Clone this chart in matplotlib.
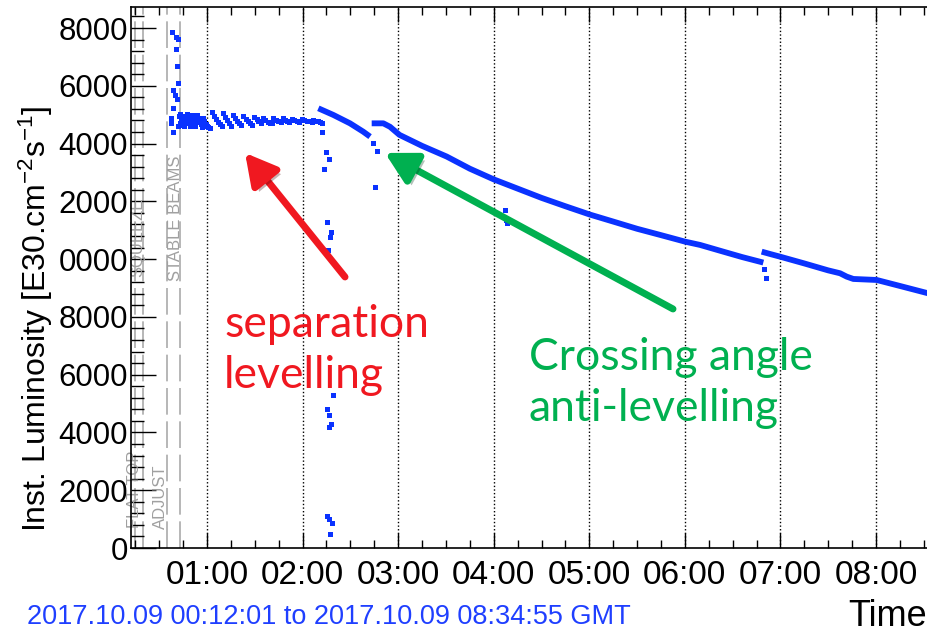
"""
Instantaneous luminosity during an LHC fill (2017.10.09), ROOT-style timber plot,
with separation-levelling and crossing-angle anti-levelling call-outs.
"""
import matplotlib
matplotlib.use("Agg")
import matplotlib.pyplot as plt
import matplotlib.patheffects as pe

plt.rcParams["font.family"] = "Liberation Sans"
plt.rcParams["mathtext.default"] = "regular"

BLUE = "#0a32ff"
RED = "#f01820"
GREEN = "#00b050"

# time in hours after 00:00 GMT, luminosity in 1e30 cm^-2 s^-1
ramp_t = [0.631, 0.676, 0.693, 0.676, 0.689, 0.693, 0.647, 0.668, 0.689, 0.641, 0.620, 0.623, 0.641]
ramp_v = [17850, 17700, 17610, 17265, 16690, 16090, 15860, 15680, 15530, 15220, 14880, 14700, 14390]

plateau_t = [0.700, 0.707, 0.713, 0.720, 0.727, 0.735, 0.744, 0.752, 0.760, 0.768, 0.777, 0.787,
             0.797, 0.807, 0.817, 0.827, 0.838, 0.848, 0.860, 0.872, 0.884, 0.896, 0.909, 0.921,
             0.933, 0.945, 0.957, 0.970, 0.985, 1.000, 1.015, 1.030,
             1.049, 1.071, 1.091, 1.112, 1.132, 1.153,
             1.171, 1.193, 1.213, 1.233, 1.254,
             1.275, 1.294, 1.315, 1.335, 1.360,
             1.380, 1.406, 1.426, 1.447, 1.472,
             1.492, 1.518, 1.538, 1.563,
             1.589, 1.609, 1.634, 1.660, 1.675,
             1.694, 1.721, 1.746, 1.771,
             1.792, 1.812, 1.837, 1.863,
             1.886, 1.914, 1.939, 1.964,
             1.991, 2.015, 2.045, 2.076, 2.096,
             2.112, 2.137, 2.157, 2.178, 2.198]
plateau_v = [14600, 14950, 14700, 15010, 14800, 14650, 14950, 14780, 14600, 14900, 14700, 15030,
             14900, 14760, 14620, 14880, 14980, 14820, 14700, 14600, 14900, 15000, 14880, 14760,
             14660, 14580, 14900, 14780, 14680, 14600, 14560, 14540,
             15080, 14960, 14850, 14750, 14660, 14600,
             15050, 14920, 14800, 14700, 14620,
             14990, 14880, 14780, 14700, 14630,
             14960, 14850, 14770, 14700, 14640,
             14930, 14840, 14770, 14700,
             14900, 14830, 14760, 14720, 14700,
             14880, 14820, 14770, 14740,
             14870, 14830, 14790, 14760,
             14850, 14810, 14780, 14760,
             14840, 14810, 14790, 14770, 14760,
             14810, 14790, 14770, 14740, 14700]

dip1_t = [2.203, 2.245, 2.273, 2.224, 2.256, 2.297, 2.284, 2.266,
          2.315, 2.252, 2.273, 2.294, 2.280, 2.252, 2.280, 2.308, 2.290]
dip1_v = [14390, 13710, 13470, 13120, 11290, 10940, 10780, 10320,
          5300, 4810, 4600, 4290, 4200, 1120, 990, 855, 485]

seg2_t = [2.165, 2.322, 2.496, 2.635, 2.706]
seg2_v = [15220, 14990, 14700, 14410, 14240]

dip2_t = [2.734, 2.776, 2.761]
dip2_v = [14010, 13755, 12510]

seg3_t = [2.723, 2.845, 2.915, 3.014, 3.25, 3.508, 3.75, 4.0, 4.25, 4.5, 4.75, 5.008,
          5.25, 5.5, 5.75, 6.002, 6.16, 6.4, 6.6, 6.821]
seg3_v = [14700, 14700, 14580, 14300, 13920, 13550, 13130, 12760, 12440, 12120, 11830, 11540,
          11300, 11050, 10830, 10605, 10490, 10260, 10070, 9880]

dip3_t = [4.118, 4.129, 4.136, 6.831, 6.849]
dip3_v = [11700, 11355, 11240, 9648, 9358]

seg4_t = [6.804, 6.9, 6.996, 7.25, 7.5, 7.624, 7.694, 7.763, 8.007, 8.251, 8.544, 8.58]
seg4_v = [10258, 10170, 10085, 9850, 9610, 9510, 9393, 9313, 9278, 9070, 8818, 8790]

hour_ticks = [1, 2, 3, 4, 5, 6, 7, 8]
hour_labels = ["01:00", "02:00", "03:00", "04:00", "05:00", "06:00", "07:00", "08:00"]
ytick_vals = [0, 2000, 4000, 6000, 8000, 10000, 12000, 14000, 16000, 18000]
ytick_labels = ["0", "2000", "4000", "6000", "8000", "0000", "2000", "4000", "6000", "8000"]

mode_t = [0.247, 0.330, 0.581, 0.717]
mode_names = ["FLAT TOP", "ADJUST", "SQUEEZE", "STABLE BEAMS"]
mode_label_t = [0.236, 0.508, 0.278, 0.665]
mode_label_v = [2043, 1766, 10767, 11425]

T0, T1 = 0.2003, 8.5819   # 00:12:01 .. 08:34:55
W, H = 928, 635


def fpx(x, y):
    return x / W, 1 - y / H


fig = plt.figure(figsize=(W / 100, H / 100), dpi=100)
left, right, bottom, top = 130.6, 931.6, 548, 7
ax = fig.add_axes([left / W, 1 - bottom / H, (right - left) / W, (bottom - top) / H])
ax.set_xlim(T0, T1)
ax.set_ylim(0, 18727)

# hour grid + beam-mode markers
for h in hour_ticks:
    ax.axvline(h, color="black", lw=1, ls=(0, (1, 1.6)), zorder=1)
for t in mode_t:
    ax.axvline(t, color="#aaaaaa", lw=1.2, ls=(0, (16, 4)), zorder=1)
for name, t, v in zip(mode_names, mode_label_t, mode_label_v):
    ax.text(t, v, name, rotation=90, ha="center", va="center", color="#a0a0a0",
            fontsize=12, zorder=2)

# luminosity data
pts = dict(ls="none", marker="s", ms=3.6, mew=0, color=BLUE, zorder=3)
ax.plot(ramp_t, ramp_v, **pts)
ax.plot(plateau_t, plateau_v, **pts)
ax.plot(dip1_t, dip1_v, **pts)
ax.plot(dip2_t, dip2_v, **pts)
ax.plot(dip3_t, dip3_v, **pts)
for tt, vv in [(seg2_t, seg2_v), (seg3_t, seg3_v), (seg4_t, seg4_v)]:
    ax.plot(tt, vv, "-", lw=4.2, color=BLUE, solid_capstyle="butt", zorder=3)

# axes cosmetics (ROOT look)
ax.set_xticks(hour_ticks)
ax.set_xticklabels(hour_labels)
ax.set_xticks([h / 4 for h in range(1, 35)], minor=True)
ax.set_yticks(ytick_vals)
ax.set_yticklabels(ytick_labels)
ax.set_yticks(list(range(0, 18800, 400)), minor=True)
ax.tick_params(axis="x", which="major", direction="in", length=11, width=1, top=True,
               labelsize=24, pad=9)
ax.tick_params(axis="x", which="minor", direction="in", length=6, width=1, top=True)
ax.tick_params(axis="y", which="major", direction="in", length=18, width=1, right=False,
               labelsize=22.5, pad=2)
ax.tick_params(axis="y", which="minor", direction="in", length=9, width=1, right=False)
for s in ax.spines.values():
    s.set_linewidth(1.2)

# call-outs
shadow = [pe.withSimplePatchShadow(offset=(3, -3), alpha=0.3)]
ax.annotate("", xy=(1.398, 13675), xytext=(2.444, 9382),
            arrowprops=dict(arrowstyle="-|>,head_length=0.55,head_width=0.3", color=RED,
                            lw=5, shrinkA=0, shrinkB=0, mutation_scale=34,
                            path_effects=shadow))
ax.annotate("", xy=(2.862, 13675), xytext=(5.876, 8274),
            arrowprops=dict(arrowstyle="-|>,head_length=0.55,head_width=0.3", color=GREEN,
                            lw=5, shrinkA=0, shrinkB=0, mutation_scale=34,
                            path_effects=shadow))
# va="baseline" on multi-line text anchors the last line's baseline
fig.text(*fpx(224, 388), "separation\nlevelling", color=RED, fontsize=32,
         family="Lato", va="baseline", ha="left", linespacing=1.3)
fig.text(*fpx(529, 421), "Crossing angle\nanti-levelling", color=GREEN, fontsize=32,
         family="Lato", va="baseline", ha="left", linespacing=1.3)

fig.text(*fpx(36, 532), r"Inst. Luminosity [E30.cm$^{-2}$s$^{-1}$]", rotation=90,
         ha="center", va="bottom", fontsize=23)
fig.text(*fpx(27, 617), "2017.10.09 00:12:01 to 2017.10.09 08:34:55 GMT", color="#1f3fff",
         fontsize=19.5, va="center", ha="left")
fig.text(*fpx(848, 617), "Time", fontsize=26, va="center", ha="left")

fig.savefig("out.png", dpi=100)
